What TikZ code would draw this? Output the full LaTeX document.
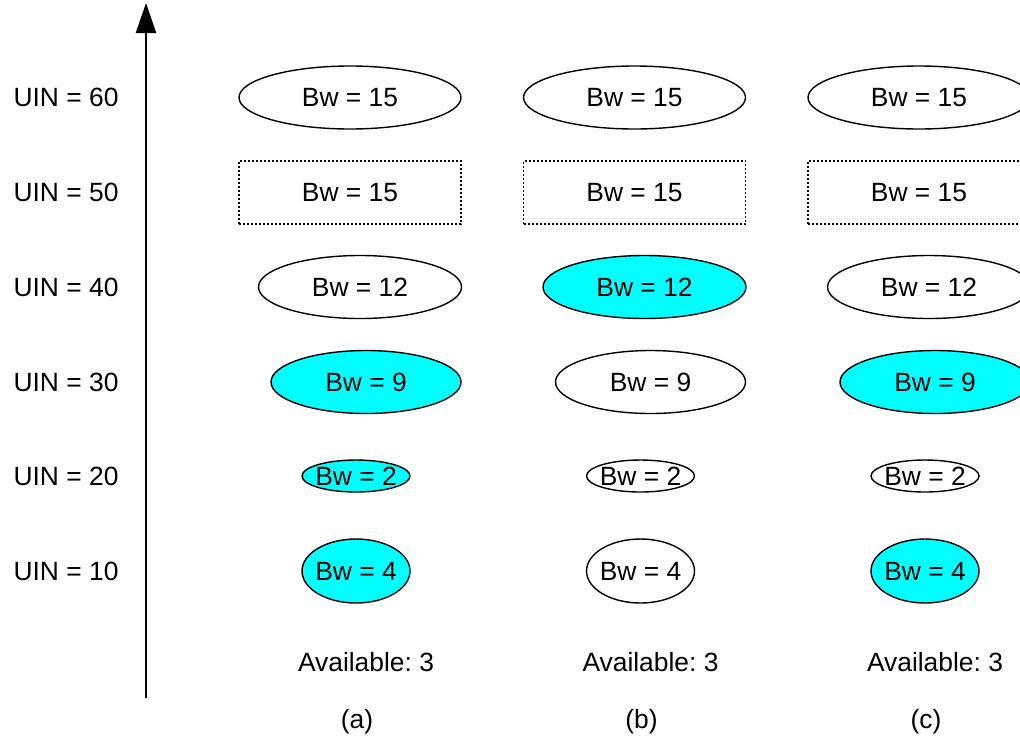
\documentclass[tikz,border=0pt]{standalone}
\usepackage{fontspec}
\setmainfont{Liberation Sans}
\usetikzlibrary{shapes.geometric, arrows.meta}
\definecolor{bwcyan}{RGB}{0,255,255}

\begin{document}
\begin{tikzpicture}[x=0.5pt, y=-0.5pt,
        bwell/.style={shape=ellipse, draw, line width=0.7pt, inner sep=0pt},
        bwrect/.style={shape=rectangle, draw, line width=0.6pt, dash pattern=on 1pt off 1pt},
        busy/.style={fill=bwcyan},
        lbl/.style={anchor=center, inner sep=0pt, font=\fontsize{13.2}{16}\selectfont\frenchspacing}]
        	\clip (0,0) rectangle (1020,740);
        	% Axis:
        	\coordinate (A0) at (146,698);
        	\coordinate (A1) at (146,3);
        	\draw[-{Triangle[length=15pt, width=10pt]}, line width=1.25pt] (A0) -- (A1);
        	% Row labels:
        	\node[lbl](U6) at (66,97){UIN = 60};
        	\node[lbl](U5) at (66,192){UIN = 50};
        	\node[lbl](U4) at (66,287){UIN = 40};
        	\node[lbl](U3) at (66,382){UIN = 30};
        	\node[lbl](U2) at (66,476){UIN = 20};
        	\node[lbl](U1) at (66,571){UIN = 10};
        	% Column (a):
        	\node[bwell, minimum width=111pt, minimum height=31.5pt](a6) at (350,97.5){} node[lbl] at (a6.center){Bw = 15};
        	\node[bwrect, minimum width=111pt, minimum height=31.5pt](a5) at (350,192.5){} node[lbl] at (a5.center){Bw = 15};
        	\node[bwell, minimum width=101.5pt, minimum height=31.5pt](a4) at (360,287){} node[lbl] at (a4.center){Bw = 12};
        	\node[bwell, busy, minimum width=95pt, minimum height=31.5pt](a3) at (366,382){} node[lbl] at (a3.center){Bw = 9};
        	\node[bwell, busy, minimum width=54pt, minimum height=16pt](a2) at (356,476){} node[lbl] at (a2.center){Bw = 2};
        	\node[bwell, busy, minimum width=54pt, minimum height=32pt](a1) at (356,571){} node[lbl] at (a1.center){Bw = 4};
        	\node[lbl](aAv) at (366,662){Available: 3};
        	\node[lbl](aCap) at (357,722){(a)};
        	% Column (b):
        	\node[bwell, minimum width=111pt, minimum height=31.5pt](b6) at (634.5,97.5){} node[lbl] at (b6.center){Bw = 15};
        	\node[bwrect, minimum width=111pt, minimum height=31.5pt](b5) at (634.5,192.5){} node[lbl] at (b5.center){Bw = 15};
        	\node[bwell, busy, minimum width=101.5pt, minimum height=31.5pt](b4) at (644.5,287){} node[lbl] at (b4.center){Bw = 12};
        	\node[bwell, minimum width=95pt, minimum height=31.5pt](b3) at (650.5,382){} node[lbl] at (b3.center){Bw = 9};
        	\node[bwell, minimum width=54pt, minimum height=16pt](b2) at (640.5,476){} node[lbl] at (b2.center){Bw = 2};
        	\node[bwell, minimum width=54pt, minimum height=32pt](b1) at (640.5,571){} node[lbl] at (b1.center){Bw = 4};
        	\node[lbl](bAv) at (650.5,662){Available: 3};
        	\node[lbl](bCap) at (641.5,722){(b)};
        	% Column (c):
        	\node[bwell, minimum width=111pt, minimum height=31.5pt](c6) at (919,97.5){} node[lbl] at (c6.center){Bw = 15};
        	\node[bwrect, minimum width=111pt, minimum height=31.5pt](c5) at (919,192.5){} node[lbl] at (c5.center){Bw = 15};
        	\node[bwell, minimum width=101.5pt, minimum height=31.5pt](c4) at (929,287){} node[lbl] at (c4.center){Bw = 12};
        	\node[bwell, busy, minimum width=95pt, minimum height=31.5pt](c3) at (935,382){} node[lbl] at (c3.center){Bw = 9};
        	\node[bwell, minimum width=54pt, minimum height=16pt](c2) at (925,476){} node[lbl] at (c2.center){Bw = 2};
        	\node[bwell, busy, minimum width=54pt, minimum height=32pt](c1) at (925,571){} node[lbl] at (c1.center){Bw = 4};
        	\node[lbl](cAv) at (935,662){Available: 3};
        	\node[lbl](cCap) at (926,722){(c)};
        \end{tikzpicture}
\end{document}
